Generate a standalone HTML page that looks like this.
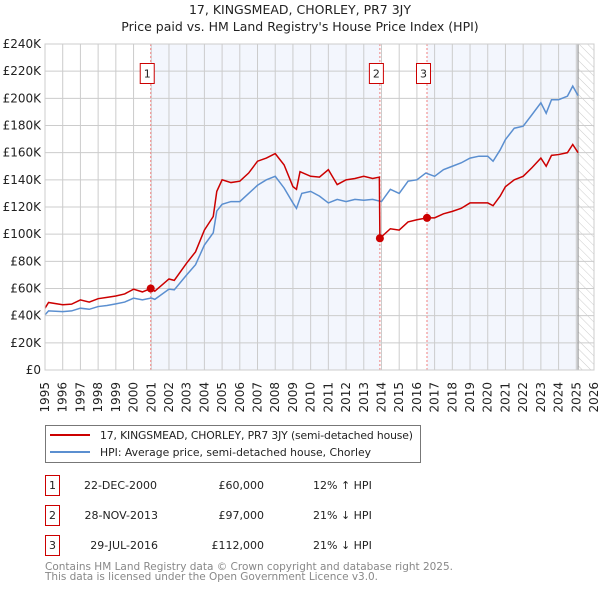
<!DOCTYPE html>
<html><head><meta charset="utf-8"><style>
body{margin:0;background:#fff;}
svg{display:block;font-family:"DejaVu Sans","Liberation Sans",sans-serif;}
</style></head><body>
<svg id="c" width="600" height="590" viewBox="0 0 600 590">
<defs><pattern id="hatch" width="6" height="6" patternUnits="userSpaceOnUse" patternTransform="rotate(-45)"><line x1="0" y1="0" x2="0" y2="6" stroke="#ccc" stroke-width="1"/></pattern></defs>
<text x="300" y="14" text-anchor="middle" font-size="12.5" fill="#222">17, KINGSMEAD, CHORLEY, PR7 3JY</text>
<text x="300" y="31" text-anchor="middle" font-size="12.5" fill="#222">Price paid vs. HM Land Registry's House Price Index (HPI)</text>
<g id="plot"></g>
<g>
<rect x="45.5" y="425.5" width="375" height="37" fill="#fff" stroke="#777"/>
<line x1="50" y1="435" x2="90" y2="435" stroke="#cc0000" stroke-width="2"/>
<text x="100" y="439" font-size="10.8" fill="#222" textLength="313">17, KINGSMEAD, CHORLEY, PR7 3JY (semi-detached house)</text>
<line x1="50" y1="452" x2="90" y2="452" stroke="#5b8fd0" stroke-width="2"/>
<text x="100" y="456" font-size="10.8" fill="#222">HPI: Average price, semi-detached house, Chorley</text>
</g>
<g font-size="11" fill="#222">
<rect x="45.5" y="475.5" width="14" height="20" fill="#fff" stroke="#cc0000"/>
<text x="52.5" y="489" text-anchor="middle">1</text>
<text x="157" y="489" text-anchor="end">22-DEC-2000</text>
<text x="264" y="489" text-anchor="end">£60,000</text>
<text x="313" y="489">12% ↑ HPI</text>
<rect x="45.5" y="505.5" width="14" height="20" fill="#fff" stroke="#cc0000"/>
<text x="52.5" y="519" text-anchor="middle">2</text>
<text x="158" y="519" text-anchor="end">28-NOV-2013</text>
<text x="264" y="519" text-anchor="end">£97,000</text>
<text x="313" y="519">21% ↓ HPI</text>
<rect x="45.5" y="535.5" width="14" height="20" fill="#fff" stroke="#cc0000"/>
<text x="52.5" y="549" text-anchor="middle">3</text>
<text x="158" y="549" text-anchor="end">29-JUL-2016</text>
<text x="264" y="549" text-anchor="end">£112,000</text>
<text x="313" y="549">21% ↓ HPI</text>
</g>
<text x="45" y="570" font-size="10.5" fill="#888" textLength="408">Contains HM Land Registry data © Crown copyright and database right 2025.</text>
<text x="45" y="580" font-size="10.5" fill="#888" textLength="333">This data is licensed under the Open Government Licence v3.0.</text>
</svg>
<script>
const yTicks=[0,20,40,60,80,100,120,140,160,180,200,220,240];
const yTickLabels=["£0","£20K","£40K","£60K","£80K","£100K","£120K","£140K","£160K","£180K","£200K","£220K","£240K"];
const xYears=[1995,1996,1997,1998,1999,2000,2001,2002,2003,2004,2005,2006,2007,2008,2009,2010,2011,2012,2013,2014,2015,2016,2017,2018,2019,2020,2021,2022,2023,2024,2025,2026];
const saleDates=[2000.97,2013.91,2016.57];
const salePrices=[60,97,112];
const saleLabels=["1","2","3"];
const hpiDates=[1995.0,1995.2,1996,1996.5,1997,1997.5,1998,1998.5,1999,1999.5,2000,2000.5,2001,2001.2,2002,2002.3,2003,2003.5,2004,2004.5,2004.7,2005,2005.5,2006,2006.5,2007,2007.5,2008,2008.5,2009,2009.2,2009.5,2010,2010.5,2011,2011.5,2012,2012.5,2013,2013.5,2014,2014.5,2015,2015.5,2016,2016.5,2017,2017.5,2018,2018.5,2019,2019.5,2020,2020.3,2020.7,2021,2021.5,2022,2022.5,2023,2023.3,2023.6,2024,2024.5,2024.8,2025.1];
const hpiValues=[40.6,43.5,43,43.5,45.5,44.7,46.7,47.5,48.7,50,52.9,51.6,53,52,59.5,59,70,77.5,92,101,117,122,124,124,130,136,140,142.6,134,123,119,130,131.5,128,123,125.6,124,125.6,125,125.6,124,133,130,139,140,145,142.6,147.5,150,152.5,156,157.4,157.4,153.7,162,169.7,178,179.5,188,196.7,189,199,199,201.6,209,202];
const priceDates=[1995.0,1995.2,1996,1996.5,1997,1997.5,1998,1998.5,1999,1999.5,2000,2000.5,2000.97,2001.2,2002,2002.3,2003,2003.5,2004,2004.5,2004.7,2005,2005.5,2006,2006.5,2007,2007.5,2008,2008.5,2009,2009.2,2009.4,2010,2010.5,2011,2011.5,2012,2012.5,2013,2013.5,2013.88,2013.91,2014.5,2015,2015.5,2016,2016.57,2017,2017.5,2018,2018.5,2019,2019.5,2020,2020.3,2020.7,2021,2021.5,2022,2022.5,2023,2023.3,2023.6,2024,2024.5,2024.8,2025.1];
const priceValues=[45.5,49.7,48,48.5,51.6,50,52.5,53.5,54.5,56,59.5,57.5,60,58,67,66,78.7,87,103,113,131.5,140,138,139,145,153.7,156,159.3,151,135,133,146,142.6,142,147.5,136.5,140,141,142.6,141,142,97,104,103,109,110.6,112,112,115,116.8,119,123,123,123,121,128,135,140,142.6,149,156,150,158,158.6,160,166,160];

const NS="http://www.w3.org/2000/svg";
const X0=45,X1=594,Y0=370,Y1=44;
const xScale=v=>X0+(v-1995)/(2026-1995)*(X1-X0);
const yScale=v=>Y0-v/240*(Y0-Y1);
const plot=document.getElementById('plot');
function mk(tag,attrs,parent){const e=document.createElementNS(NS,tag);for(const k in attrs)e.setAttribute(k,attrs[k]);(parent||plot).appendChild(e);return e;}

const bg=mk('rect',{x:X0,y:Y1,width:X1-X0,height:Y0-Y1,fill:'#fff'});


const dataEnd=2025.1;
const sh1=mk('rect',{x:xScale(saleDates[0]),y:Y1,width:xScale(saleDates[1])-xScale(saleDates[0]),height:Y0-Y1,fill:'#f3f6fd'});


const sh2=mk('rect',{x:xScale(saleDates[2]),y:Y1,width:xScale(dataEnd)-xScale(saleDates[2]),height:Y0-Y1,fill:'#f3f6fd'});


const hat=mk('rect',{x:xScale(dataEnd),y:Y1,width:X1-xScale(dataEnd),height:Y0-Y1,fill:'url(#hatch)'});



yTicks.forEach((t,i)=>{
  const g=mk('line',{x1:X0,x2:X1,y1:yScale(t),y2:yScale(t),stroke:'#ccc','stroke-width':1});
  
  
  const l=mk('text',{x:X0-4,y:yScale(t)+4,'text-anchor':'end','font-size':'12',fill:'#222'});
  l.textContent=yTickLabels[i];
  
  
});
xYears.forEach(yr=>{
  const x=xScale(yr);
  const g=mk('line',{x1:x,x2:x,y1:Y1,y2:Y0,stroke:'#ccc','stroke-width':1});
  
  
  const l=mk('text',{x:0,y:0,'text-anchor':'end','font-size':'12',fill:'#222',transform:`translate(${x+4},${Y0+12}) rotate(-90)`});
  l.textContent=yr;
  
  
});
const endLine=mk('line',{x1:xScale(dataEnd),x2:xScale(dataEnd),y1:Y1,y2:Y0,stroke:'#999','stroke-width':1.2});



saleDates.forEach((d,i)=>{
  const x=xScale(d);
  const v=mk('line',{x1:x,x2:x,y1:Y1,y2:Y0,stroke:'#f08080','stroke-width':1,'stroke-dasharray':'2,2'});
  
  
  const b=mk('rect',{x:x-10.5,y:63.5,width:14,height:20,fill:'#fff',stroke:'#cc0000'});
  
  
  const t=mk('text',{x:x-3.5,y:77.5,'text-anchor':'middle','font-size':'11',fill:'#222'});
  t.textContent=saleLabels[i];
  
  
});

const hp=mk('polyline',{points:hpiDates.map((d,i)=>xScale(d)+','+yScale(hpiValues[i])).join(' '),fill:'none',stroke:'#5b8fd0','stroke-width':1.5});


const pp=mk('polyline',{points:priceDates.map((d,i)=>xScale(d)+','+yScale(priceValues[i])).join(' '),fill:'none',stroke:'#cc0000','stroke-width':1.5});


saleDates.forEach((d,i)=>{
  const c=mk('circle',{cx:xScale(d),cy:yScale(salePrices[i]),r:4,fill:'#cc0000'});
  
  
});
const fr=mk('rect',{x:X0,y:Y1,width:X1-X0,height:Y0-Y1,fill:'none',stroke:'#ccc'});


</script>
</body></html>
